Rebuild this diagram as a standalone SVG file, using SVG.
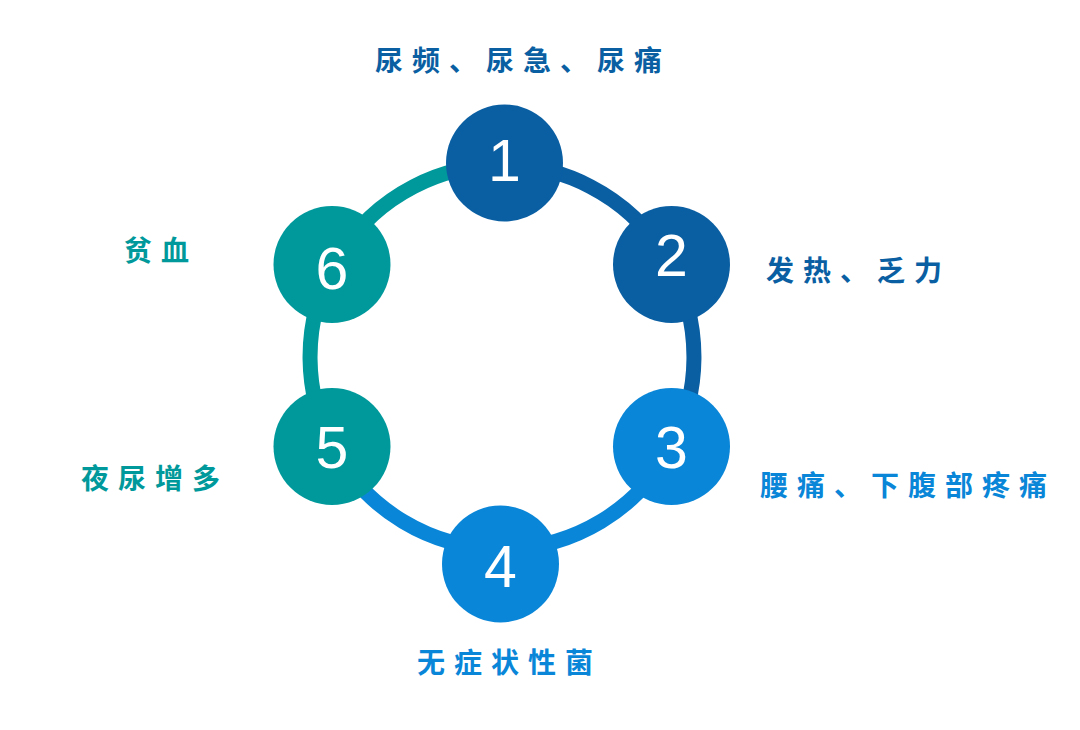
<svg xmlns="http://www.w3.org/2000/svg" width="1080" height="730" viewBox="0 0 1080 730">
<style>
.ring{fill:none;stroke-width:15}
.num{font-family:"Liberation Sans",Arial,sans-serif;font-size:59px;fill:#fff;text-anchor:middle}
.lbl{font-family:"Noto Sans CJK SC","Noto Sans",sans-serif;font-size:28px;font-weight:700;letter-spacing:9px}
.c1{fill:#0a5fa3}.c2{fill:#0a86d8}.c3{fill:#00999b}
</style>
<rect width="1080" height="730" fill="#fff"/>
<g id="connectors">
<path class="ring" stroke="#0a5fa3" d="M502,165 A192,192 0 0 1 671.5,447.1"/>
<path class="ring" stroke="#0a86d8" d="M671.5,447.1 A192,192 0 0 1 332.5,447.1"/>
<path class="ring" stroke="#00999b" d="M332.5,447.1 A192,192 0 0 1 502,165"/>
</g>
<g id="node1"><circle class="c1" cx="504.5" cy="163" r="58.5"/><text class="num" x="504.5" y="181">1</text></g>
<g id="node2"><circle class="c1" cx="671.5" cy="264.5" r="58.5"/><text class="num" x="671.5" y="276">2</text></g>
<g id="node3"><circle class="c2" cx="671.5" cy="446.5" r="58.5"/><text class="num" x="671.5" y="468">3</text></g>
<g id="node4"><circle class="c2" cx="500.5" cy="564" r="58.5"/><text class="num" x="500.5" y="587">4</text></g>
<g id="node5"><circle class="c3" cx="332" cy="446.5" r="58.5"/><text class="num" x="332" y="468">5</text></g>
<g id="node6"><circle class="c3" cx="332" cy="264.5" r="58.5"/><text class="num" x="332" y="289">6</text></g>
<g id="labels">
<text class="lbl c1" x="375" y="71">尿频、尿急、尿痛</text>
<text class="lbl c1" x="766" y="281">发热、乏力</text>
<text class="lbl c2" x="760" y="496">腰痛、下腹部疼痛</text>
<text class="lbl c2" x="417" y="673">无症状性菌</text>
<text class="lbl c3" x="124" y="261">贫血</text>
<text class="lbl c3" x="81" y="489">夜尿增多</text>
</g>
</svg>
